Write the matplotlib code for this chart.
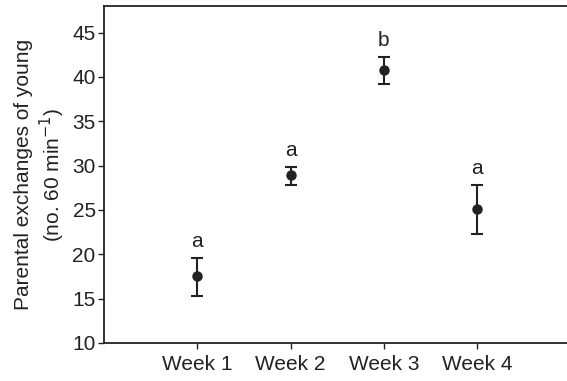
import matplotlib
matplotlib.use('Agg')
import matplotlib.pyplot as plt

weeks = ['Week 1', 'Week 2', 'Week 3', 'Week 4']
means = [17.5, 28.9, 40.8, 25.1]
upper = [19.6, 29.9, 42.3, 27.8]
lower = [15.3, 27.8, 39.2, 22.3]
letters = ['a', 'a', 'b', 'a']

ink = '#222222'
plt.rcParams['font.family'] = ['Liberation Sans', 'DejaVu Sans']
plt.rcParams['font.size'] = 15

fig = plt.figure(figsize=(5.67, 3.81), dpi=100)
ax = fig.add_axes([104 / 567, 1 - 343 / 381, 466.5 / 567, 337 / 381])

x = list(range(1, len(weeks) + 1))
yerr = [[m - lo for m, lo in zip(means, lower)],
        [up - m for m, up in zip(means, upper)]]
ax.errorbar(x, means, yerr=yerr, fmt='o', color=ink, ms=6.5,
            elinewidth=1.5, capsize=4, capthick=1.5, zorder=3)

for xi, up, lab in zip(x, upper, letters):
    ax.annotate(lab, (xi, up), xytext=(0, 5), textcoords='offset points',
                ha='center', va='bottom', color=ink, fontsize=15)

ax.set_xlim(0, 5)
ax.set_ylim(10, 48)
ax.set_xticks(x)
ax.set_xticklabels(weeks)
ax.set_yticks(range(10, 50, 5))
ax.spines['right'].set_visible(False)
for s in ['left', 'bottom', 'top']:
    ax.spines[s].set_linewidth(1.3)
    ax.spines[s].set_color(ink)
ax.tick_params(direction='out', length=4, width=1, colors=ink,
               labelcolor=ink, labelsize=15)
ax.tick_params(axis='y', pad=2)
ax.tick_params(axis='x', pad=5)
ax.set_ylabel('Parental exchanges of young\n(no. 60 min$^{-1}$)',
              color=ink, fontsize=15, labelpad=4)

fig.savefig('out.png', dpi=100)
